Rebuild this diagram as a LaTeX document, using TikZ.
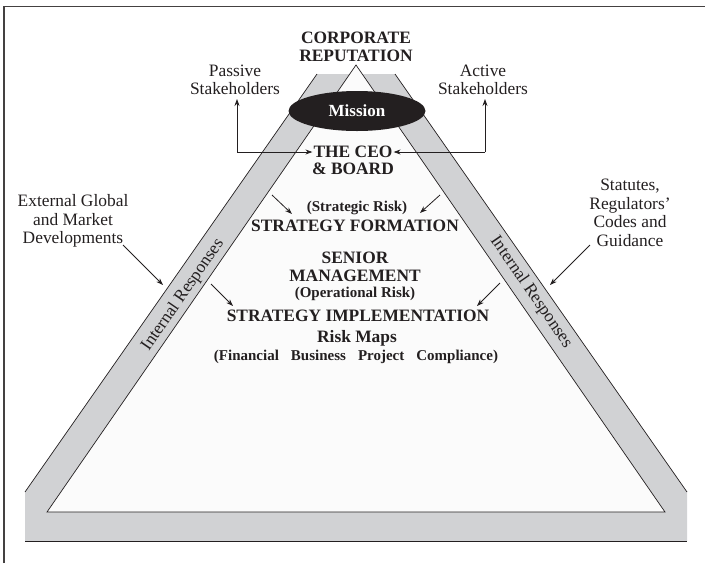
\documentclass[tikz,border=0pt]{standalone}
\usepackage{fontspec}
\setmainfont{Liberation Serif}
\usetikzlibrary{arrows.meta,shapes.geometric}
\definecolor{ink}{HTML}{231F20}
\definecolor{bandgray}{HTML}{D1D2D4}
\definecolor{innerfill}{HTML}{FBFBFB}
\begin{document}
\begin{tikzpicture}[x=1pt,y=-1pt,
  lbl/.style={font=\fontsize{17.4}{18.5}\selectfont, align=center, inner sep=0pt, text=ink},
  hdr/.style={font=\fontsize{17.4}{18}\selectfont\bfseries, align=center, inner sep=0pt, text=ink},
  sub/.style={font=\fontsize{15}{16}\selectfont\bfseries, inner sep=0pt, text=ink},
  arr/.style={-{Stealth[length=7pt,width=5pt]}, line width=0.8pt, draw=ink},
  thin/.style={line width=0.7pt, draw=ink},
  frame/.style={line width=1.4pt, draw=ink!85}]
\useasboundingbox (0,0) rectangle (705,563);
% frame
\draw[frame] (4,563) -- (4,6.5) -- (705,6.5);
% gray band
\fill[bandgray] (25,492) -- (317,74) -- (395,74) -- (687,492) -- (687,541) -- (25,541) -- cycle;
\draw[thin] (25,492) -- (317,74);
\draw[thin] (395,74) -- (687,492);
\draw[thin] (25,541) -- (687,541);
% inner triangle
\draw[thin, fill=innerfill] (356,65) -- (665,512) -- (47,512) -- cycle;
% band labels
\node[lbl, rotate=55.4] (intL) at (183,295) {Internal Responses};
\node[lbl, rotate=-55.4] (intR) at (531,292) {Internal Responses};
% top texts
\node[hdr] (corp) at (356,47) {CORPORATE\\REPUTATION};
\node[lbl] (passive) at (235,80) {Passive\\Stakeholders};
\node[lbl] (active) at (483,80) {Active\\Stakeholders};
\node[ellipse, fill=ink, minimum width=137pt, minimum height=40pt, inner sep=0pt,
      font=\fontsize{17}{18}\selectfont\bfseries, text=white] (mission) at (357,111) {Mission};
\node[hdr] (ceo1) at (353,152) {THE CEO};
\node[hdr] (ceo2) at (353,169) {\& BOARD};
\node[sub] (strisk) at (357,208) {(Strategic Risk)};
\node[hdr] (strform) at (355,226) {STRATEGY FORMATION};
\node[hdr] (senior) at (355,267) {SENIOR\\MANAGEMENT};
\node[sub] (oprisk) at (355,294) {(Operational Risk)};
\node[hdr] (strimpl) at (358,316) {STRATEGY IMPLEMENTATION};
\node[hdr] (riskmaps) at (357,338) {Risk Maps};
\node[sub] (fin) at (356,357) {(Financial\hspace{12pt}Business\hspace{12pt}Project\hspace{12pt}Compliance)};
\node[lbl] (external) at (73,221) {External Global\\and Market\\Developments};
\node[lbl] (statutes) at (630,213) {Statutes,\\Regulators’\\Codes and\\Guidance};
% stakeholder connectors
\coordinate (pcorner) at (237,152);
\coordinate (acorner) at (485,152);
\draw[arr] (pcorner) -- ([xshift=-1pt]ceo1.west);
\draw[arr] (pcorner) -- (237,99);
\draw[arr] (acorner) -- ([xshift=1pt]ceo1.east);
\draw[arr] (acorner) -- (485,99);
% inner arrows
\coordinate (a1s) at (272,195); \coordinate (a1e) at (292,214);
\coordinate (a2s) at (440,195); \coordinate (a2e) at (420,213);
\coordinate (a3s) at (211,284); \coordinate (a3e) at (233,306);
\coordinate (a4s) at (500,283); \coordinate (a4e) at (477,306);
\coordinate (a5s) at (123,245); \coordinate (a5e) at (163,285);
\coordinate (a6s) at (590,245); \coordinate (a6e) at (550,285);
\draw[arr] (a1s) -- (a1e);
\draw[arr] (a2s) -- (a2e);
\draw[arr] (a3s) -- (a3e);
\draw[arr] (a4s) -- (a4e);
\draw[arr] (a5s) -- (a5e);
\draw[arr] (a6s) -- (a6e);
\end{tikzpicture}
\end{document}
